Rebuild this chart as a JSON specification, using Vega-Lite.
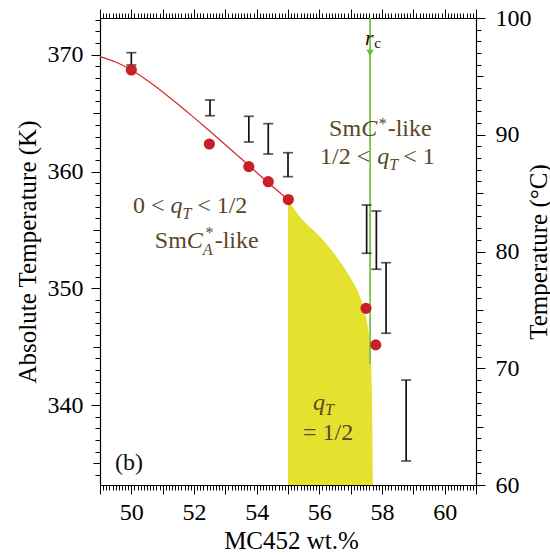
{
  "$schema": "https://vega.github.io/schema/vega-lite/v6.json",
  "width": 376,
  "height": 467,
  "autosize": {"type": "none"},
  "padding": {"left": 100, "top": 18, "right": 74, "bottom": 71},
  "background": "white",
  "config": {
    "view": {"stroke": null},
    "axis": {
      "grid": false,
      "domainColor": "#000",
      "tickColor": "#000",
      "labelColor": "#000",
      "titleColor": "#000",
      "labelFont": "Times New Roman, Liberation Serif, DejaVu Serif, serif",
      "titleFont": "Times New Roman, Liberation Serif, DejaVu Serif, serif",
      "labelFontSize": 24,
      "titleFontSize": 25,
      "titleFontWeight": "normal",
      "domainWidth": 1.2,
      "tickWidth": 1,
      "zindex": 1
    },
    "text": {"font": "Times New Roman, Liberation Serif, DejaVu Serif, serif"}
  },
  "datasets": {
    "fit": [
      {"x": 49.0, "K": 369.84}, {"x": 49.5, "K": 369.38}, {"x": 50.0, "K": 368.7},
      {"x": 50.5, "K": 367.82}, {"x": 51.0, "K": 366.82}, {"x": 51.5, "K": 365.74},
      {"x": 52.0, "K": 364.62}, {"x": 52.5, "K": 363.47}, {"x": 53.0, "K": 362.3},
      {"x": 53.5, "K": 361.12}, {"x": 54.0, "K": 359.92}, {"x": 54.5, "K": 358.74},
      {"x": 55.0, "K": 357.6}
    ],
    "pts": [
      {"x": 50.0, "K": 368.7}, {"x": 52.49, "K": 362.36}, {"x": 53.75, "K": 360.42},
      {"x": 54.37, "K": 359.13}, {"x": 55.01, "K": 357.6}, {"x": 57.49, "K": 348.28},
      {"x": 57.8, "K": 345.15}
    ],
    "err": [
      {"x": 50.0, "lo": 369.12, "hi": 370.18},
      {"x": 52.51, "lo": 364.78, "hi": 366.13},
      {"x": 53.75, "lo": 362.53, "hi": 364.73},
      {"x": 54.37, "lo": 361.5, "hi": 364.1},
      {"x": 55.0, "lo": 359.56, "hi": 361.61},
      {"x": 57.51, "lo": 353.0, "hi": 357.13},
      {"x": 57.82, "lo": 351.63, "hi": 356.62},
      {"x": 58.13, "lo": 346.15, "hi": 352.19},
      {"x": 58.77, "lo": 335.21, "hi": 342.14}
    ],
    "qhalf": [
      {"x": 55.0, "K": 357.56}, {"x": 55.38, "K": 356.13}, {"x": 56.02, "K": 354.42},
      {"x": 56.55, "K": 352.71}, {"x": 56.97, "K": 351.0}, {"x": 57.3, "K": 349.28},
      {"x": 57.49, "K": 347.57}, {"x": 57.59, "K": 345.85}, {"x": 57.64, "K": 344.14},
      {"x": 57.68, "K": 340.43}, {"x": 57.71, "K": 333.15}
    ],
    "green": [{"x": 57.62, "lo": 343.5, "hi": 373.15}],
    "rc": [{"x": 57.62, "K": 370.15}],
    "up": [
      {"x": 56.31, "K": 363.04, "t": "Sm"},
      {"x": 58.18, "K": 363.04, "t": "-like"},
      {"x": 56.02, "K": 360.65, "t": "1/2 <"},
      {"x": 58.68, "K": 360.65, "t": "< 1"},
      {"x": 50.05, "K": 356.45, "t": "0 <"},
      {"x": 52.1, "K": 356.45, "t": "< 1/2"},
      {"x": 50.75, "K": 353.45, "t": "Sm"},
      {"x": 52.66, "K": 353.45, "t": "-like"},
      {"x": 55.48, "K": 337.0, "t": "= 1/2"}
    ],
    "it": [
      {"x": 57.34, "K": 363.04, "t": "C"},
      {"x": 57.85, "K": 360.65, "t": "q"},
      {"x": 51.25, "K": 356.45, "t": "q"},
      {"x": 51.77, "K": 353.45, "t": "C"},
      {"x": 55.8, "K": 339.57, "t": "q"}
    ],
    "sub": [
      {"x": 58.23, "K": 360.13, "t": "T"},
      {"x": 51.63, "K": 355.93, "t": "T"},
      {"x": 52.28, "K": 352.85, "t": "A"},
      {"x": 56.18, "K": 339.15, "t": "T"}
    ],
    "sup": [
      {"x": 57.9, "K": 363.6, "t": "*"},
      {"x": 52.37, "K": 354.3, "t": "*"}
    ],
    "blk": [{"x": 49.48, "K": 334.43, "t": "(b)"}],
    "rit": [{"x": 57.46, "K": 370.84, "t": "r"}],
    "rsub": [{"x": 57.75, "K": 370.58, "t": "c"}],
    "cal": [{"C": 60}, {"C": 100}]
  },
  "layer": [
    {
      "data": {"name": "qhalf"},
      "mark": {"type": "area", "color": "#e4e22f", "interpolate": "monotone", "clip": true},
      "encoding": {
        "x": {"field": "x", "type": "quantitative", "scale": {"domain": [49, 61], "nice": false, "zero": false},
          "axis": {"orient": "bottom", "values": [49, 50, 51, 52, 53, 54, 55, 56, 57, 58, 59, 60, 61], "tickSize": 9,
            "labelExpr": "datum.value % 2 == 0 ? datum.label : ''", "labelPadding": 6, "labelOverlap": false, "labelFlush": false,
            "title": "MC452 wt.%", "titleX": 191, "titleY": 63, "titleBaseline": "alphabetic"}},
        "y": {"field": "K", "type": "quantitative", "scale": {"domain": [333.15, 373.15], "nice": false, "zero": false},
          "axis": {"orient": "left", "values": [340, 350, 360, 370], "tickSize": 9, "labelPadding": 8,
            "title": "Absolute Temperature (K)", "titleAngle": 270, "titleX": -65, "titleBaseline": "alphabetic"}},
        "y2": {"datum": 333.15}
      }
    },
    {
      "data": {"name": "green"},
      "mark": {"type": "rule", "color": "#7dc242", "strokeWidth": 1.8},
      "encoding": {
        "x": {"field": "x", "type": "quantitative", "scale": {"domain": [49, 61], "nice": false, "zero": false},
          "axis": {"orient": "bottom", "labels": false, "domain": false, "tickSize": 5, "title": null,
            "values": [49,49.1,49.2,49.3,49.4,49.5,49.6,49.7,49.8,49.9,50,50.1,50.2,50.3,50.4,50.5,50.6,50.7,50.8,50.9,51,51.1,51.2,51.3,51.4,51.5,51.6,51.7,51.8,51.9,52,52.1,52.2,52.3,52.4,52.5,52.6,52.7,52.8,52.9,53,53.1,53.2,53.3,53.4,53.5,53.6,53.7,53.8,53.9,54,54.1,54.2,54.3,54.4,54.5,54.6,54.7,54.8,54.9,55,55.1,55.2,55.3,55.4,55.5,55.6,55.7,55.8,55.9,56,56.1,56.2,56.3,56.4,56.5,56.6,56.7,56.8,56.9,57,57.1,57.2,57.3,57.4,57.5,57.6,57.7,57.8,57.9,58,58.1,58.2,58.3,58.4,58.5,58.6,58.7,58.8,58.9,59,59.1,59.2,59.3,59.4,59.5,59.6,59.7,59.8,59.9,60,60.1,60.2,60.3,60.4,60.5,60.6,60.7,60.8,60.9,61]}},
        "y": {"field": "lo", "type": "quantitative", "scale": {"domain": [333.15, 373.15], "nice": false, "zero": false},
          "axis": {"orient": "left", "labels": false, "domain": false, "tickSize": 5, "title": null,
            "values": [334,335,336,337,338,339,340,341,342,343,344,345,346,347,348,349,350,351,352,353,354,355,356,357,358,359,360,361,362,363,364,365,366,367,368,369,370,371,372,373]}},
        "y2": {"field": "hi"}
      }
    },
    {
      "data": {"name": "fit"},
      "mark": {"type": "line", "color": "#d42a2a", "strokeWidth": 1.2, "interpolate": "monotone"},
      "encoding": {
        "x": {"field": "x", "type": "quantitative", "scale": {"domain": [49, 61], "nice": false, "zero": false},
          "axis": {"orient": "top", "values": [49, 50, 51, 52, 53, 54, 55, 56, 57, 58, 59, 60, 61], "tickSize": 9, "labels": false, "title": null}},
        "y": {"field": "K", "type": "quantitative", "scale": {"domain": [333.15, 373.15], "nice": false, "zero": false},
          "axis": {"orient": "left", "values": [335, 345, 355, 365], "tickSize": 7, "labels": false, "domain": false, "title": null}}
      }
    },
    {
      "data": {"name": "err"},
      "mark": {"type": "rule", "color": "#111", "strokeWidth": 1.7},
      "encoding": {
        "x": {"field": "x", "type": "quantitative", "scale": {"domain": [49, 61], "nice": false, "zero": false},
          "axis": {"orient": "top", "labels": false, "domain": false, "tickSize": 5, "title": null,
            "values": [49,49.1,49.2,49.3,49.4,49.5,49.6,49.7,49.8,49.9,50,50.1,50.2,50.3,50.4,50.5,50.6,50.7,50.8,50.9,51,51.1,51.2,51.3,51.4,51.5,51.6,51.7,51.8,51.9,52,52.1,52.2,52.3,52.4,52.5,52.6,52.7,52.8,52.9,53,53.1,53.2,53.3,53.4,53.5,53.6,53.7,53.8,53.9,54,54.1,54.2,54.3,54.4,54.5,54.6,54.7,54.8,54.9,55,55.1,55.2,55.3,55.4,55.5,55.6,55.7,55.8,55.9,56,56.1,56.2,56.3,56.4,56.5,56.6,56.7,56.8,56.9,57,57.1,57.2,57.3,57.4,57.5,57.6,57.7,57.8,57.9,58,58.1,58.2,58.3,58.4,58.5,58.6,58.7,58.8,58.9,59,59.1,59.2,59.3,59.4,59.5,59.6,59.7,59.8,59.9,60,60.1,60.2,60.3,60.4,60.5,60.6,60.7,60.8,60.9,61]}},
        "y": {"field": "lo", "type": "quantitative", "scale": {"domain": [333.15, 373.15], "nice": false, "zero": false}, "axis": null},
        "y2": {"field": "hi"}
      }
    },
    {
      "data": {"name": "err"},
      "mark": {"type": "tick", "orient": "horizontal", "color": "#111", "size": 10, "thickness": 1.7},
      "encoding": {
        "x": {"field": "x", "type": "quantitative", "scale": {"domain": [49, 61], "nice": false, "zero": false}, "axis": null},
        "y": {"field": "hi", "type": "quantitative", "scale": {"domain": [333.15, 373.15], "nice": false, "zero": false}, "axis": null}
      }
    },
    {
      "data": {"name": "err"},
      "mark": {"type": "tick", "orient": "horizontal", "color": "#111", "size": 10, "thickness": 1.7},
      "encoding": {
        "x": {"field": "x", "type": "quantitative", "scale": {"domain": [49, 61], "nice": false, "zero": false}, "axis": null},
        "y": {"field": "lo", "type": "quantitative", "scale": {"domain": [333.15, 373.15], "nice": false, "zero": false}, "axis": null}
      }
    },
    {
      "data": {"name": "pts"},
      "mark": {"type": "circle", "color": "#c91f27", "opacity": 1, "size": 125},
      "encoding": {
        "x": {"field": "x", "type": "quantitative", "scale": {"domain": [49, 61], "nice": false, "zero": false}, "axis": null},
        "y": {"field": "K", "type": "quantitative", "scale": {"domain": [333.15, 373.15], "nice": false, "zero": false}, "axis": null}
      }
    },
    {
      "data": {"name": "rc"},
      "mark": {"type": "point", "shape": "triangle-down", "filled": true, "color": "#6cbf3a", "opacity": 1, "size": 55},
      "encoding": {
        "x": {"field": "x", "type": "quantitative", "scale": {"domain": [49, 61], "nice": false, "zero": false}, "axis": null},
        "y": {"field": "K", "type": "quantitative", "scale": {"domain": [333.15, 373.15], "nice": false, "zero": false}, "axis": null}
      }
    },
    {
      "data": {"name": "up"},
      "mark": {"type": "text", "fontSize": 24, "color": "#5a4628", "align": "left", "baseline": "alphabetic"},
      "encoding": {
        "x": {"field": "x", "type": "quantitative", "scale": {"domain": [49, 61], "nice": false, "zero": false}, "axis": null},
        "y": {"field": "K", "type": "quantitative", "scale": {"domain": [333.15, 373.15], "nice": false, "zero": false}, "axis": null},
        "text": {"field": "t"}
      }
    },
    {
      "data": {"name": "it"},
      "mark": {"type": "text", "fontSize": 24, "fontStyle": "italic", "color": "#5a4628", "align": "left", "baseline": "alphabetic"},
      "encoding": {
        "x": {"field": "x", "type": "quantitative", "scale": {"domain": [49, 61], "nice": false, "zero": false}, "axis": null},
        "y": {"field": "K", "type": "quantitative", "scale": {"domain": [333.15, 373.15], "nice": false, "zero": false}, "axis": null},
        "text": {"field": "t"}
      }
    },
    {
      "data": {"name": "sub"},
      "mark": {"type": "text", "fontSize": 16, "fontStyle": "italic", "color": "#5a4628", "align": "left", "baseline": "alphabetic"},
      "encoding": {
        "x": {"field": "x", "type": "quantitative", "scale": {"domain": [49, 61], "nice": false, "zero": false}, "axis": null},
        "y": {"field": "K", "type": "quantitative", "scale": {"domain": [333.15, 373.15], "nice": false, "zero": false}, "axis": null},
        "text": {"field": "t"}
      }
    },
    {
      "data": {"name": "sup"},
      "mark": {"type": "text", "fontSize": 16, "color": "#5a4628", "align": "left", "baseline": "alphabetic"},
      "encoding": {
        "x": {"field": "x", "type": "quantitative", "scale": {"domain": [49, 61], "nice": false, "zero": false}, "axis": null},
        "y": {"field": "K", "type": "quantitative", "scale": {"domain": [333.15, 373.15], "nice": false, "zero": false}, "axis": null},
        "text": {"field": "t"}
      }
    },
    {
      "data": {"name": "blk"},
      "mark": {"type": "text", "fontSize": 24, "color": "#111", "align": "left", "baseline": "alphabetic"},
      "encoding": {
        "x": {"field": "x", "type": "quantitative", "scale": {"domain": [49, 61], "nice": false, "zero": false}, "axis": null},
        "y": {"field": "K", "type": "quantitative", "scale": {"domain": [333.15, 373.15], "nice": false, "zero": false}, "axis": null},
        "text": {"field": "t"}
      }
    },
    {
      "data": {"name": "rit"},
      "mark": {"type": "text", "fontSize": 22, "fontStyle": "italic", "color": "#111", "align": "left", "baseline": "alphabetic"},
      "encoding": {
        "x": {"field": "x", "type": "quantitative", "scale": {"domain": [49, 61], "nice": false, "zero": false}, "axis": null},
        "y": {"field": "K", "type": "quantitative", "scale": {"domain": [333.15, 373.15], "nice": false, "zero": false}, "axis": null},
        "text": {"field": "t"}
      }
    },
    {
      "data": {"name": "rsub"},
      "mark": {"type": "text", "fontSize": 15, "color": "#111", "align": "left", "baseline": "alphabetic"},
      "encoding": {
        "x": {"field": "x", "type": "quantitative", "scale": {"domain": [49, 61], "nice": false, "zero": false}, "axis": null},
        "y": {"field": "K", "type": "quantitative", "scale": {"domain": [333.15, 373.15], "nice": false, "zero": false}, "axis": null},
        "text": {"field": "t"}
      }
    },
    {
      "data": {"name": "cal"},
      "mark": {"type": "point", "opacity": 0},
      "encoding": {
        "y": {"field": "C", "type": "quantitative", "scale": {"domain": [60, 100], "nice": false, "zero": false},
          "axis": {"orient": "right", "values": [60, 70, 80, 90, 100], "tickSize": 9, "labelPadding": 10,
            "title": "Temperature (°C)", "titleAngle": 270, "titleX": 70, "titleBaseline": "alphabetic"}}
      }
    },
    {
      "data": {"name": "cal"},
      "mark": {"type": "point", "opacity": 0},
      "encoding": {
        "y": {"field": "C", "type": "quantitative", "scale": {"domain": [60, 100], "nice": false, "zero": false},
          "axis": {"orient": "right", "values": [65, 75, 85, 95], "tickSize": 7, "labels": false, "domain": false, "title": null}}
      }
    },
    {
      "data": {"name": "cal"},
      "mark": {"type": "point", "opacity": 0},
      "encoding": {
        "y": {"field": "C", "type": "quantitative", "scale": {"domain": [60, 100], "nice": false, "zero": false},
          "axis": {"orient": "right", "labels": false, "domain": false, "tickSize": 5, "title": null,
            "values": [61,62,63,64,65,66,67,68,69,70,71,72,73,74,75,76,77,78,79,80,81,82,83,84,85,86,87,88,89,90,91,92,93,94,95,96,97,98,99]}}
      }
    }
  ],
  "resolve": {
    "scale": {"y": "independent"},
    "axis": {"x": "independent", "y": "independent"}
  }
}
